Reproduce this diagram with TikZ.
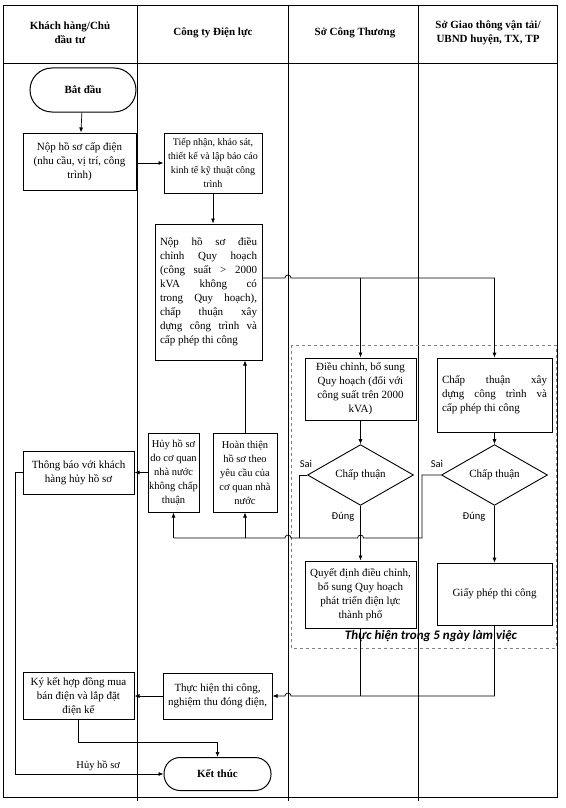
\documentclass[tikz,border=0pt]{standalone}
\usepackage{fontspec}
\setmainfont{Liberation Serif}
\newfontfamily\lblfont{Carlito}
\usepackage{tikz}
\usetikzlibrary{arrows.meta,shapes.geometric}

\begin{document}
\begin{tikzpicture}[x=1pt,y=-1pt,
  every node/.style={font=\fontsize{11}{14}\selectfont},
  box/.style={draw,line width=1pt,inner sep=2pt,align=center},
  thinbox/.style={draw,line width=0.7pt,inner sep=2pt,align=center},
  term/.style={draw,line width=1pt,rounded corners=#1,font=\fontsize{11}{14}\selectfont\bfseries},
  decision/.style={draw,shape=diamond,line width=0.9pt,inner sep=0pt,minimum width=106pt,minimum height=57pt},
  head/.style={font=\fontsize{11}{14}\selectfont\bfseries,align=center},
  lbl/.style={font=\lblfont\fontsize{10.5}{12}\selectfont,inner sep=1pt},
  line/.style={line width=0.7pt},
  arr/.style={line width=0.7pt,-{Latex[length=5pt,width=4pt]}}]
\useasboundingbox (0,0) rectangle (565,808);

% lanes
\draw[line width=0.9pt] (3,5) rectangle (557,797);
\draw[line width=0.9pt] (3,63) -- (557,63);
\foreach \lx in {137,288,418}
  \draw[line width=0.8pt] (\lx,5) -- (\lx,801);
\draw[dashed,gray,line width=0.9pt] (291,345) rectangle (556,648);

\node[head] (h1) at (70,33) {Khách hàng/Chủ\\đầu tư};
\node[head] (h2) at (213,33) {Công ty Điện lực};
\node[head] (h3) at (355,33) {Sở Công Thương};
\node[head] (h4) at (488,33) {Sở Giao thông vận tải/\\UBND huyện, TX, TP};

% nodes
\node[term=22pt,minimum width=106pt,minimum height=44pt] (start) at (83,90) {Bắt đầu};
\node[box,minimum width=113pt,minimum height=57pt] (cap) at (79.5,161.5) {Nộp hồ sơ cấp điện\\(nhu cầu, vị trí, công\\trình)};
\node[box,minimum width=98pt,minimum height=60pt,inner sep=1pt,font=\fontsize{10}{14}\selectfont] (tiepnhan) at (213,163) {Tiếp nhận, khảo sát,\\thiết kế và lập báo cáo\\kinh tế kỹ thuật công\\trình};
\node[box,minimum width=107pt,minimum height=136pt,text width=97pt,align=justify] (hsdc) at (208.5,292)
  {Nộp hồ sơ điều\linebreak chỉnh Quy hoạch\linebreak (công suất > 2000\linebreak kVA không có\linebreak trong Quy hoạch),\linebreak chấp thuận xây\linebreak dựng công trình và\linebreak cấp phép thi công\par\vspace{8pt}};
\node[box,minimum width=111pt,minimum height=62pt,inner sep=1pt] (bosung) at (360.5,389) {Điều chỉnh, bổ sung\\Quy hoạch (đối với\\công suất trên 2000\\kVA)};
\node[thinbox,minimum width=115pt,minimum height=74pt,text width=105pt,align=justify] (cpxd) at (494.5,395)
  {Chấp thuận xây\linebreak dựng công trình và\linebreak cấp phép thi công\par\vspace{10pt}};
\node[decision] (d1) at (360.5,475) {Chấp thuận};
\node[decision] (d2) at (494.5,475) {Chấp thuận};
\node[box,minimum width=111pt,minimum height=67pt,inner sep=1pt] (qd) at (360.5,594.5) {Quyết định điều chỉnh,\\bổ sung Quy hoạch\\phát triển điện lực\\thành phố};
\node[thinbox,minimum width=115pt,minimum height=62pt] (gp) at (494.5,594) {Giấy phép thi công};
\node[box,minimum width=51pt,minimum height=79pt,inner sep=1pt,font=\fontsize{10.5}{14}\selectfont] (huy) at (173.5,472.5) {Hủy hồ sơ\\do cơ quan\\nhà nước\\không chấp\\thuận};
\node[box,minimum width=64pt,minimum height=79pt,inner sep=1pt,font=\fontsize{10.5}{14}\selectfont] (ht) at (245,472.5) {Hoàn thiện\\hồ sơ theo\\yêu cầu của\\cơ quan nhà\\nước};
\node[box,minimum width=111pt,minimum height=43pt] (tb) at (78.5,472.5) {Thông báo với khách\\hàng hủy hồ sơ};
\node[box,minimum width=111pt,minimum height=47pt,inner sep=1pt] (kk) at (78.5,696) {Ký kết hợp đồng mua\\bán điện và lắp đặt\\điện kế};
\node[box,minimum width=109pt,minimum height=46pt,inner sep=1pt] (tc) at (217.5,696) {Thực hiện thi công,\\nghiệm thu đóng điện,};
\node[term=16pt,minimum width=107pt,minimum height=33pt] (end) at (217.5,774) {Kết thúc};

\node[lbl] (sai1) at (306,464) {Sai};
\node[lbl] (sai2) at (437,464) {Sai};
\node[lbl] (dung1) at (343,517) {Đúng};
\node[lbl] (dung2) at (474,517) {Đúng};
\node[font=\lblfont\bfseries\itshape\fontsize{13}{14}\selectfont] (note) at (431,636) {Thực hiện trong 5 ngày làm việc};

\coordinate (split) at (360.5,278);
\coordinate (jn) at (299,538);
\coordinate (jb) at (360.5,696);

% connectors
\draw[arr] (start) -- (cap);
\draw[arr] (cap.east |- tiepnhan) -- (tiepnhan.west);
\draw[arr] (tiepnhan) -- (tiepnhan.south |- hsdc.north);
\draw[arr] (hsdc.east |- split) -- (285,278) arc[start angle=180,end angle=0,radius=3pt] -| (cpxd.north);
\draw[arr] (split) -- (bosung);
\draw[arr] (bosung) -- (d1);
\draw[arr] (cpxd) -- (d2);
\draw[arr] (d1) -- (qd);
\draw[arr] (d2) -- (gp);
\draw[line] (d1.west) -| (jn);
\draw[line] (d2.west) -- (422,475) |- (363.5,538) arc[start angle=0,end angle=180,radius=3pt]
  -- (291,538) arc[start angle=0,end angle=180,radius=3pt] -- (huy.south |- jn);
\draw[arr] (huy.south |- jn) -- (huy);
\draw[arr] (ht.south |- jn) -- (ht);
\draw[arr] (ht) -- (ht.north |- hsdc.south);
\draw[arr] (huy) -- (tb);
\draw[arr] (tb.west) -- (15,472.5) |- (end.west) node[pos=0.78,above,font=\fontsize{10.5}{12}\selectfont] {Hủy hồ sơ};
\draw[line] (qd) -- (jb);
\draw[arr] (gp) |- (291,696) arc[start angle=0,end angle=180,radius=3pt] -- (tc.east);
\draw[arr] (tc) -- (kk);
\draw[arr] (kk.south) -- ++(0,22) -| (end.north);

\end{tikzpicture}
\end{document}
